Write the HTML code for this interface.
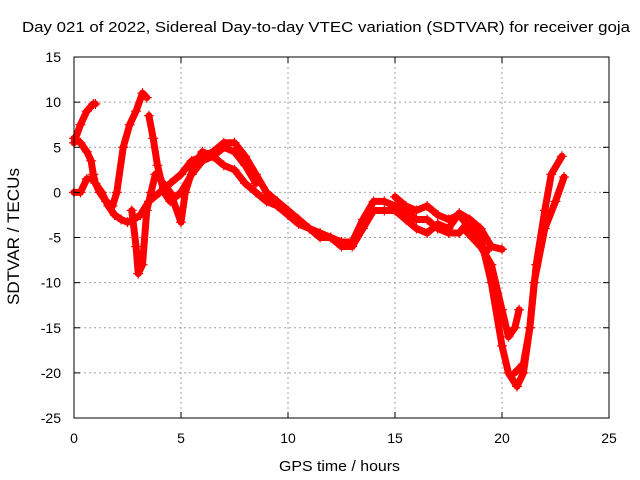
<!DOCTYPE html>
<html><head><meta charset="utf-8"><style>
body{margin:0;background:#fff;}
svg{display:block;font-family:"Liberation Sans",sans-serif;}
</style></head><body>
<svg id="chart" width="640" height="480">
<rect width="640" height="480" fill="#fff"/>
<text x="22" y="32" font-size="15" textLength="608" lengthAdjust="spacingAndGlyphs">Day 021 of 2022, Sidereal Day-to-day VTEC variation (SDTVAR) for receiver goja</text>
<text x="279" y="471" font-size="15" textLength="121" lengthAdjust="spacingAndGlyphs">GPS time / hours</text>
<text transform="translate(19,305) rotate(-90)" font-size="17" textLength="137" lengthAdjust="spacingAndGlyphs">SDTVAR / TECUs</text>
<g id="grid"></g><g id="series"></g><g id="axes"></g>
</svg>
<script>
const xTicks=[0,5,10,15,20,25];
const yTicks=[15,10,5,0,-5,-10,-15,-20,-25];
const sA=[[0,5.5],[0.3,7.5],[0.6,9],[0.9,9.8],[1.0,9.8]];
const sB=[[0,6],[0.3,5.5],[0.6,4.5],[0.8,3.5],[0.9,2],[1.0,1],[1.3,0],[1.6,-1.5],[1.9,-2.5],[2.2,-3],[2.5,-3.3],[2.8,-3],[3.1,-2.5],[3.5,-1],[4,0],[4.5,1],[5,2],[5.5,3.5],[6,4],[6.5,4.5],[7,5.5],[7.5,5.5],[8,4],[8.5,2],[9,0],[9.5,-1],[10,-2],[10.5,-3],[11,-4],[11.5,-4.5],[12,-5],[12.5,-5.5],[13,-5.5],[13.5,-3],[14,-1],[14.5,-1],[15,-1.5],[15.5,-2],[16,-3],[16.5,-3],[17,-4],[17.5,-4.5],[18,-4.5],[18.5,-3],[19,-4],[19.5,-6],[20,-6.3]];
const sC=[[0,0],[0.3,0],[0.6,1.5],[0.9,1.5],[1.2,0],[1.5,-1],[1.8,-1.5],[2.0,0],[2.3,5],[2.6,7.5],[2.9,9],[3.2,11],[3.4,10.5]];
const sD=[[3.5,8.5],[3.7,6],[3.9,3],[4.2,0],[4.5,-1],[5,0],[5.5,2],[6,3.5],[6.5,4],[7,3],[7.5,2.5],[8,1],[8.5,0],[9,-1],[9.5,-1.5],[10,-2.5],[10.5,-3.5],[11,-4],[11.5,-5],[12,-5],[12.5,-6],[13,-6],[13.5,-4],[14,-2],[14.5,-2],[15,-2],[15.5,-3],[16,-4],[16.5,-4.5],[17,-3.5],[17.5,-4],[18,-2.3],[18.5,-3],[19,-5],[19.5,-10],[20,-17],[20.3,-20],[20.7,-21.5],[21,-20],[21.3,-15],[21.6,-8],[22,-2],[22.3,2],[22.8,4]];
const sE=[[2.7,-2],[2.9,-6],[3.0,-9],[3.2,-8],[3.4,-2],[3.6,0],[3.8,2],[4,1.5],[4.5,0],[5,-3.3],[5.2,0],[5.6,3],[6,4.5],[6.5,4],[7,5],[7.5,4.5],[8,3],[8.5,1]];
const sF=[[18.2,-4],[18.6,-5],[19,-6],[19.5,-8],[20,-13],[20.3,-16],[20.6,-15],[20.8,-13]];
const sG=[[20.6,-20],[21,-19],[21.3,-15],[21.5,-10],[22,-4],[22.5,-1],[22.9,1.7]];
const sH=[[15,-0.5],[15.5,-1.5],[16,-2],[16.5,-1.5],[17,-2.5],[17.5,-3],[18,-2.5],[18.5,-4],[19,-6],[19.3,-6.5]];
const allSeries=[sA,sB,sC,sD,sE,sF,sG,sH];
const X=h=>74+h*21.4, Y=v=>192.4-v*9.025;
const NS='http://www.w3.org/2000/svg';
function mk(t,a,p){const e=document.createElementNS(NS,t);for(const k in a)e.setAttribute(k,a[k]);p.appendChild(e);return e;}
const grid=document.getElementById('grid'),axes=document.getElementById('axes'),ser=document.getElementById('series');
xTicks.forEach(t=>{
 if(t>0&&t<25){const l=mk('line',{x1:X(t),x2:X(t),y1:57,y2:418,stroke:'#a0a0a0','stroke-dasharray':'2,3'},grid);
 
 }
 const tx=mk('text',{x:X(t),y:443,'font-size':14,'text-anchor':'middle'},axes);tx.textContent=t;
 
 
 mk('line',{x1:X(t),x2:X(t),y1:418,y2:412,stroke:'#000'},axes);mk('line',{x1:X(t),x2:X(t),y1:57,y2:63,stroke:'#000'},axes);
});
yTicks.forEach(t=>{
 if(t<15&&t>-25){const l=mk('line',{x1:74,x2:609,y1:Y(t),y2:Y(t),stroke:'#a0a0a0','stroke-dasharray':'2,3'},grid);
 
 }
 const tx=mk('text',{x:61,y:Y(t)+5,'font-size':14,'text-anchor':'end'},axes);tx.textContent=t;
 
 
 mk('line',{x1:74,x2:80,y1:Y(t),y2:Y(t),stroke:'#000'},axes);mk('line',{x1:609,x2:603,y1:Y(t),y2:Y(t),stroke:'#000'},axes);
});
const fr=mk('rect',{x:74,y:57,width:535,height:361,fill:'none',stroke:'#000'},axes);


allSeries.forEach((s,i)=>{
 const pl=mk('polyline',{points:s.map(p=>X(p[0])+','+Y(p[1])).join(' '),fill:'none',stroke:'#f00','stroke-width':7,'stroke-linejoin':'round','stroke-linecap':'round'},ser);
 
 
 s.forEach(p=>{const x=X(p[0]),y=Y(p[1]);
  const m=mk('path',{d:`M${x-5},${y}H${x+5}M${x},${y-5}V${y+5}`,stroke:'#f00','stroke-width':1.2},ser);
  
  });
});
</script>
</body></html>
